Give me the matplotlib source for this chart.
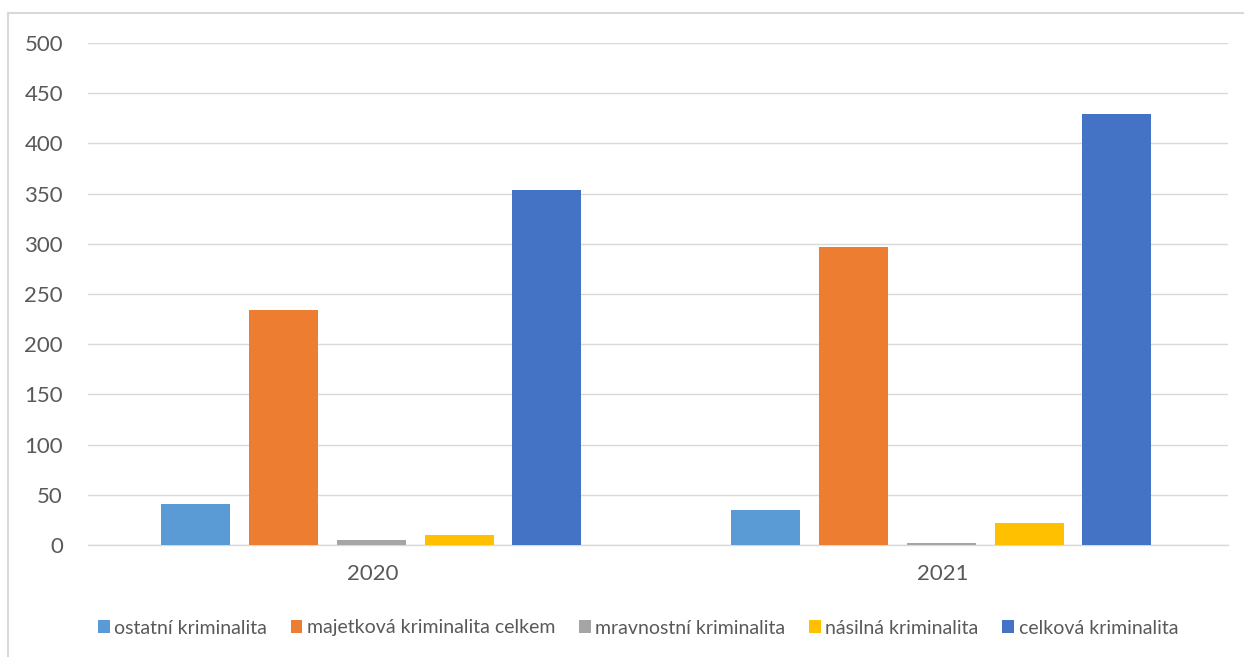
import matplotlib
matplotlib.use("Agg")
import matplotlib.pyplot as plt
import numpy as np
from matplotlib.lines import Line2D

categories = ["2020", "2021"]
series_names = ["ostatní kriminalita", "majetková kriminalita celkem",
                "mravnostní kriminalita", "násilná kriminalita", "celková kriminalita"]
ostatni = [41, 35]
majetkova = [234, 297]
mravnostni = [5, 2]
nasilna = [10, 22]
celkova = [354, 429]
yticks = [0, 50, 100, 150, 200, 250, 300, 350, 400, 450, 500]

series = [ostatni, majetkova, mravnostni, nasilna, celkova]
colors = ["#5B9BD5", "#ED7D31", "#A5A5A5", "#FFC000", "#4472C4"]

W, H = 1244, 657
plt.rcParams['font.family'] = ['Lato', 'DejaVu Sans']
fig = plt.figure(figsize=(W/100, H/100), dpi=100)
ax = fig.add_axes([88/W, 1-545/H, (1228-88)/W, (545-43)/H])

x = np.arange(len(categories))
width = 0.121
step = 0.154
for i, (vals, name, c) in enumerate(zip(series, series_names, colors)):
    ax.bar(x + (i - 2) * step - 0.003, vals, width=width, color=c, label=name, zorder=3)

ax.set_xlim(-0.5, 1.5)
ax.set_ylim(0, 500)
ax.set_yticks(yticks)
ax.set_xticks(x)
ax.set_xticklabels(categories)
ax.yaxis.grid(True, color="#D9D9D9", linewidth=1.0, zorder=0)
for s in ["top", "right", "left"]:
    ax.spines[s].set_visible(False)
ax.spines["bottom"].set_color("#D9D9D9")
ax.spines["bottom"].set_linewidth(1.0)
ax.tick_params(axis="both", length=0, labelsize=16, labelcolor="#595959")
ax.tick_params(axis="y", pad=18)
ax.tick_params(axis="x", pad=14)

leg = fig.legend(loc="center", bbox_to_anchor=(638/W, 1-628/H), ncol=5, frameon=False,
                 fontsize=14, handlelength=0.6, handleheight=0.6, handletextpad=0.25,
                 columnspacing=1.2, labelcolor="#595959")

fig.lines.append(Line2D([8/W, 1], [1-13/H, 1-13/H], transform=fig.transFigure,
                        color="#D9D9D9", linewidth=1.5))
fig.lines.append(Line2D([8/W, 8/W], [0, 1-13/H], transform=fig.transFigure,
                        color="#D9D9D9", linewidth=1.5))
fig.savefig("out.png", dpi=100)
